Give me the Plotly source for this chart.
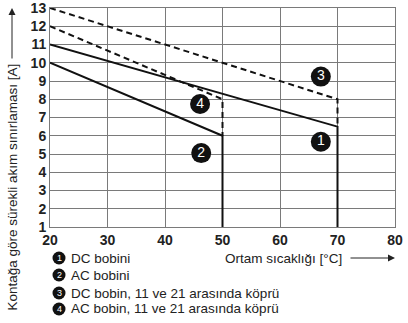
import plotly.graph_objects as go

# Data
temp_dc = [20, 70, 70]
curr_dc = [11, 6.5, 1]
temp_ac = [20, 50, 50]
curr_ac = [10, 6, 1]
temp_dc_bridge = [20, 70, 70]
curr_dc_bridge = [13, 8, 6.5]
temp_ac_bridge = [20, 50, 50]
curr_ac_bridge = [12, 8, 6]

label_ids = ["1", "2", "3", "4"]
label_x = [67.1, 46.3, 67.1, 46.1]
label_y = [5.67, 5.05, 9.24, 7.74]
legend_texts = ["DC bobini", "AC bobini",
                "DC bobin, 11 ve 21 arasında köprü",
                "AC bobin, 11 ve 21 arasında köprü"]

x_ticks = [20, 30, 40, 50, 60, 70, 80]
y_ticks = list(range(1, 14))

FONT = "Arial, Liberation Sans, Helvetica, sans-serif"
W, H = 408, 323
ML, MR, MT, MB = 50, 13, 8, 96
PW, PH = W - ML - MR, H - MT - MB


def px(x):
    return (x - ML) / PW


def py(y):
    return (H - MB - y) / PH


fig = go.Figure()
line_kw = dict(color="#111", width=2)
fig.add_trace(go.Scatter(x=temp_dc_bridge, y=curr_dc_bridge, mode="lines",
                         line=dict(color="#111", width=2, dash="6px,4px")))
fig.add_trace(go.Scatter(x=temp_ac_bridge, y=curr_ac_bridge, mode="lines",
                         line=dict(color="#111", width=2, dash="6px,4px")))
fig.add_trace(go.Scatter(x=temp_dc, y=curr_dc, mode="lines", line=line_kw))
fig.add_trace(go.Scatter(x=temp_ac, y=curr_ac, mode="lines", line=line_kw))
fig.add_trace(go.Scatter(x=label_x, y=label_y, mode="markers+text",
                         text=label_ids, textposition="middle center",
                         textfont=dict(color="white", size=14, family=FONT),
                         marker=dict(size=20, color="#111")))

annotations = []
shapes = []
legend_y_px = [258, 275, 293, 309]
for i, (lid, txt) in enumerate(zip(label_ids, legend_texts)):
    yp = py(legend_y_px[i])
    shapes.append(dict(type="circle", xref="paper", yref="paper",
                       xsizemode="pixel", ysizemode="pixel",
                       xanchor=px(59), yanchor=yp,
                       x0=-6.5, x1=6.5, y0=-6.5, y1=6.5,
                       fillcolor="#111", line=dict(width=0)))
    annotations.append(dict(x=px(59), y=yp, xref="paper", yref="paper",
                            text=lid, showarrow=False,
                            font=dict(color="white", size=9, family=FONT),
                            xanchor="center", yanchor="middle"))
    annotations.append(dict(x=px(69), y=yp, xref="paper", yref="paper",
                            text=txt, showarrow=False,
                            font=dict(color="#222", size=13.5, family=FONT),
                            xanchor="left", yanchor="middle"))

# x-axis title with arrow
annotations.append(dict(x=px(344), y=py(258), xref="paper", yref="paper",
                        text="Ortam sıcaklığı [°C]", showarrow=False,
                        font=dict(color="#222", size=13.5, family=FONT),
                        xanchor="right", yanchor="middle"))
annotations.append(dict(x=px(395), y=py(258), xref="paper", yref="paper",
                        ax=-46, ay=0, text="", showarrow=True,
                        arrowhead=2, arrowsize=1.4, arrowwidth=1, arrowcolor="#222"))
# y-axis title with arrow
annotations.append(dict(x=px(12), y=py(313), xref="paper", yref="paper",
                        text="Kontağa göre sürekli akım sınırlaması [A]",
                        showarrow=False, textangle=-90,
                        font=dict(color="#222", size=13.5, family=FONT),
                        xanchor="center", yanchor="bottom"))
annotations.append(dict(x=px(12), y=py(8), xref="paper", yref="paper",
                        ax=0, ay=52, text="", showarrow=True,
                        arrowhead=2, arrowsize=1.4, arrowwidth=1, arrowcolor="#222"))

axis_common = dict(showgrid=True, gridcolor="#7a7a7a", gridwidth=1,
                   showline=True, mirror=True, linecolor="#7a7a7a", linewidth=1,
                   zeroline=False, ticks="", automargin=False,
                   ticklabeloverflow="allow",
                   tickfont=dict(family=FONT, size=14, color="#222", weight="bold"))

fig.update_layout(
    width=W, height=H,
    margin=dict(l=ML, r=MR, t=MT, b=MB),
    paper_bgcolor="white", plot_bgcolor="white",
    showlegend=False,
    xaxis=dict(range=[20, 80], tickvals=x_ticks, **axis_common),
    yaxis=dict(range=[1, 13], tickvals=y_ticks, **axis_common),
    annotations=annotations, shapes=shapes,
)
fig.write_html("out.html")
